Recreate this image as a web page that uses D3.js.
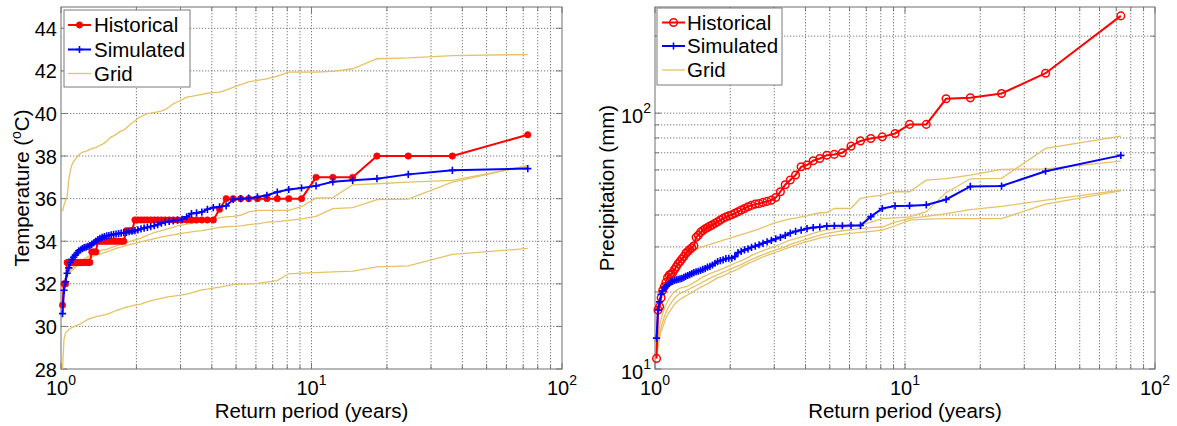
<!DOCTYPE html>
<html><head><meta charset="utf-8">
<script src="https://cdn.jsdelivr.net/npm/d3@7/dist/d3.min.js"></script>
<style>
body{margin:0;background:#fff}
text{font-family:"Liberation Sans",Arial,Helvetica,sans-serif;fill:#000}
</style>
</head><body>
<svg id="c" width="1177" height="426"></svg>
<script>
// Return periods (years) of the ranked annual maxima, rank 1..72
const returnPeriods = [73,36.5,24.333,18.25,14.6,12.167,10.429,9.125,8.111,7.3,
6.636,6.083,5.615,5.214,4.867,4.563,4.294,4.056,3.842,3.65,
3.476,3.318,3.174,3.042,2.92,2.808,2.704,2.607,2.517,2.433,
2.355,2.281,2.212,2.147,2.086,2.028,1.973,1.921,1.872,1.825,
1.780,1.738,1.698,1.659,1.622,1.587,1.553,1.521,1.490,1.46,
1.431,1.404,1.377,1.352,1.327,1.304,1.281,1.259,1.237,1.217,
1.197,1.177,1.159,1.141,1.123,1.106,1.090,1.074,1.058,1.043,
1.028,1.014];

// ---- Temperature (°C) ----
const tempHistorical = [39,38,38,38,37,37,37,36,36,36,
36,36,36,36,36,36,35.5,35,35,35,
35,35,35,35,35,35,35,35,35,35,
35,35,35,35,35,35,35,34.5,34.5,34.5,
34,34,34,34,34,34,34,34,34,34,
34,34,33.5,33.5,33.5,33,33,33,33,33,
33,33,33,33,33,33,33,33,33,32,
32,31];
const tempSimulated = [37.41,37.33,37.14,36.94,36.86,36.79,36.6,36.5,36.43,36.31,
36.16,36.08,36.02,36.0,35.96,35.66,35.62,35.58,35.5,35.37,
35.33,35.3,35.15,35.03,34.99,34.96,34.93,34.9,34.85,34.78,
34.73,34.69,34.65,34.62,34.58,34.53,34.5,34.47,34.45,34.42,
34.4,34.38,34.36,34.34,34.32,34.3,34.27,34.25,34.22,34.18,
34.13,34.08,34.0,33.93,33.85,33.8,33.76,33.72,33.7,33.65,
33.6,33.55,33.45,33.35,33.25,33.15,33.0,32.75,32.5,32.1,
31.7,30.6];
const tempGrid1 = [42.77,42.72,42.61,42.57,42.1,41.98,41.94,41.94,41.94,41.75,
41.62,41.55,41.48,41.35,41.23,41.1,41.0,40.98,40.95,40.9,
40.85,40.8,40.77,40.65,40.55,40.45,40.3,40.18,40.12,40.08,
40.05,40.02,40.0,39.93,39.85,39.78,39.65,39.55,39.45,39.33,
39.22,39.18,39.1,39.02,38.95,38.9,38.8,38.7,38.62,38.55,
38.5,38.45,38.4,38.38,38.35,38.3,38.27,38.22,38.2,38.18,
38.12,38.05,37.95,37.85,37.75,37.6,37.3,36.9,36.1,35.9,
35.7,35.4];
const tempGrid2 = [37.53,36.86,36.78,36.7,36.65,36.05,36.03,35.62,35.45,35.45,
35.45,35.45,35.38,35.22,35.17,35.14,35.1,35.05,35.0,34.93,
34.88,34.84,34.8,34.76,34.72,34.66,34.6,34.55,34.5,34.45,
34.4,34.34,34.28,34.22,34.15,34.1,34.06,34.02,33.98,33.94,
33.9,33.86,33.82,33.78,33.74,33.7,33.66,33.62,33.6,33.58,
33.55,33.5,33.46,33.42,33.38,33.33,33.28,33.22,33.17,33.12,
33.06,33.0,32.95,32.88,32.8,32.72,32.65,32.55,32.45,32.3,
32.1,31.8];
const tempGrid3 = [37.56,36.78,35.98,35.95,35.58,35.53,35.17,35.05,34.98,34.92,
34.9,34.82,34.78,34.72,34.7,34.68,34.65,34.6,34.55,34.5,
34.47,34.44,34.4,34.37,34.34,34.3,34.27,34.23,34.2,34.16,
34.12,34.08,34.05,34.0,33.97,33.94,33.9,33.87,33.84,33.8,
33.76,33.72,33.7,33.66,33.62,33.58,33.53,33.5,33.46,33.43,
33.4,33.37,33.33,33.3,33.25,33.22,33.18,33.13,33.08,33.02,
32.97,32.9,32.85,32.78,32.7,32.62,32.55,32.45,32.35,32.2,
31.9,31.5];
const tempGrid4 = [33.66,33.38,32.84,32.8,32.6,32.56,32.53,32.5,32.47,32.15,
32.08,32.02,32.0,31.99,31.96,31.9,31.85,31.8,31.75,31.72,
31.65,31.58,31.52,31.48,31.45,31.42,31.4,31.36,31.32,31.28,
31.25,31.2,31.15,31.1,31.05,31.02,31.0,30.97,30.93,30.9,
30.87,30.82,30.78,30.74,30.7,30.65,30.6,30.57,30.54,30.52,
30.5,30.48,30.45,30.43,30.4,30.37,30.33,30.28,30.22,30.18,
30.12,30.08,30.05,30.02,29.98,29.95,29.9,29.85,29.78,29.7,
29.4,28.0];

// ---- Precipitation (mm) ----
const precipHistorical = [240,143.3,119.4,114.8,113.8,90.4,90.4,83.3,80.8,79.6,
77.9,74.3,70.0,69.0,68.5,66.5,65.2,62.7,61.7,57.3,
54.8,52.5,49.3,46.8,45.7,45.2,44.8,44.3,44.1,43.6,
43.1,42.4,41.8,41.2,40.6,40.1,39.7,39.3,38.8,38.2,
37.6,37.1,36.6,36.2,35.7,35.3,34.8,34.2,33.3,32.7,
30.3,29.8,29.3,28.8,28.3,27.5,26.9,26.3,25.8,25.1,
24.5,23.8,23.5,23.3,22.8,21.8,21.0,20.3,19.0,17.5,
17.0,11.0];
const precipSimulated = [68.4,59.3,51.9,51.7,46.0,43.8,43.5,43.4,42.4,39.4,
36.4,36.4,36.3,36.3,36.2,35.9,35.7,35.4,34.9,34.5,
34.0,33.3,32.7,32.3,31.8,31.4,31.0,30.6,30.2,29.9,
29.5,29.2,28.8,28.5,27.5,27.1,27.1,27.0,26.7,26.5,
26.3,25.9,25.5,25.2,25.0,24.7,24.5,24.3,24.1,24.0,
23.8,23.6,23.4,23.2,23.0,22.8,22.6,22.5,22.4,22.3,
22.2,22.0,21.9,21.6,21.3,21.0,20.8,20.2,19.6,18.3,
17.0,13.2];
const precipGrid1 = [64.9,60.6,60.3,57.3,55.5,54.7,49.3,49.3,47.8,47.2,
46.5,42.5,42.4,42.4,40.9,40.8,40.3,39.7,39.3,38.9,
38.6,38.2,37.8,37.3,36.8,36.3,35.8,35.3,34.9,34.5,
34.1,33.8,33.5,33.2,32.9,32.6,32.3,32.1,31.9,31.6,
31.4,31.1,30.9,30.7,30.5,30.3,30.1,29.9,29.6,29.3,
29.0,28.6,28.2,27.8,27.4,27.0,26.6,26.2,25.7,25.2,
24.7,24.2,23.6,23.0,22.4,21.8,21.1,20.3,19.3,18.0,
16.0,12.5];
const precipGrid2 = [81.3,72.8,55.6,55.4,48.9,41.2,39.3,39.0,38.7,37.5,
36.5,36.1,35.8,35.4,35.0,34.5,33.9,33.3,32.8,32.3,
31.9,31.4,30.8,30.2,29.8,29.4,29.0,28.6,28.2,27.8,
27.3,26.9,26.5,26.2,25.9,25.6,25.3,25.0,24.7,24.5,
24.2,24.0,23.8,23.6,23.3,23.1,22.9,22.6,22.3,22.0,
21.8,21.5,21.3,21.1,21.0,20.9,20.8,20.7,20.5,20.3,
20.0,19.7,19.3,18.9,18.4,17.9,17.2,16.5,15.7,14.8,
13.5,12.0];
const precipGrid3 = [50.0,45.7,43.2,42.0,40.5,39.5,38.8,37.5,35.9,35.7,
35.4,35.0,34.7,34.3,33.9,33.4,32.8,32.2,31.7,31.2,
30.7,30.1,29.6,29.2,28.8,28.4,28.0,27.6,27.2,26.8,
26.4,26.0,25.6,25.3,25.0,24.7,24.4,24.1,23.9,23.6,
23.4,23.1,22.9,22.6,22.4,22.1,21.9,21.6,21.4,21.2,
21.0,20.8,20.6,20.4,20.2,20.0,19.9,19.7,19.5,19.2,
18.9,18.5,18.1,17.7,17.2,16.6,16.0,15.3,14.6,13.8,
12.8,11.5];
const precipGrid4 = [49.7,44.1,38.7,38.7,38.7,38.5,38.2,36.3,34.9,34.5,
34.2,33.9,33.6,33.3,32.9,32.5,32.0,31.5,31.0,30.5,
30.0,29.5,29.0,28.6,28.2,27.8,27.4,27.0,26.6,26.2,
25.8,25.4,25.0,24.6,24.3,24.0,23.7,23.4,23.1,22.9,
22.7,22.4,22.1,21.8,21.5,21.3,21.1,20.9,20.6,20.4,
20.1,19.9,19.7,19.5,19.3,19.1,18.9,18.7,18.5,18.2,
17.9,17.5,17.1,16.7,16.3,15.8,15.2,14.6,14.0,13.2,
12.2,11.0];

const legendLabels = ["Historical","Simulated","Grid"];
const xTickExps = [0,1,2];
const tempTicks = [28,30,32,34,36,38,40,42,44];
const precipTickExps = [1,2];

const RED = "#ff0000", BLUE = "#0000ff", GOLD = "#e6c266";
const svg = d3.select("#c");

function drawPanel(p) {
  const g = svg.append("g");
  const x = d3.scaleLog().domain([1,100]).range([p.x0,p.x1]);
  const y = p.y;
  const xGrid = [];
  [1,10].forEach(d => { for (let k=1;k<=9;k++) xGrid.push(d*k); });
  xGrid.push(100);
  // dotted grid lines
  const gg = g.append("g").attr("stroke","#7c7c7c").attr("stroke-width",1).attr("stroke-dasharray","1.3,1.7");
  xGrid.filter(v => v>1 && v<100).forEach(v => {
    gg.append("line").attr("x1",x(v)).attr("x2",x(v)).attr("y1",p.y0).attr("y2",p.y1);
  });
  p.yGrid.forEach(v => {
    gg.append("line").attr("x1",p.x0).attr("x2",p.x1).attr("y1",y(v)).attr("y2",y(v));
  });
  // inward ticks on all four sides
  const tk = g.append("g").attr("stroke","#6e6e6e").attr("stroke-width",0.9);
  xGrid.forEach(v => {
    const L = ([1,10,100].includes(v)) ? 6 : 4;
    tk.append("line").attr("x1",x(v)).attr("x2",x(v)).attr("y1",p.y1).attr("y2",p.y1-L);
    tk.append("line").attr("x1",x(v)).attr("x2",x(v)).attr("y1",p.y0).attr("y2",p.y0+L);
  });
  p.yTickAll.forEach(([v,major]) => {
    const L = major ? 6 : 4;
    tk.append("line").attr("x1",p.x0).attr("x2",p.x0+L).attr("y1",y(v)).attr("y2",y(v));
    tk.append("line").attr("x1",p.x1).attr("x2",p.x1-L).attr("y1",y(v)).attr("y2",y(v));
  });
  g.append("rect").attr("x",p.x0).attr("y",p.y0).attr("width",p.x1-p.x0).attr("height",p.y1-p.y0)
    .attr("fill","none").attr("stroke","#6e6e6e").attr("stroke-width",1);

  const line = d3.line().x((d,i)=>x(returnPeriods[i])).y(d=>y(d));
  p.grids.forEach(arr => {
    g.append("path").datum(arr).attr("d",line).attr("fill","none")
      .attr("stroke",GOLD).attr("stroke-width",1.3);
  });
  g.append("path").datum(p.hist).attr("d",line).attr("fill","none").attr("stroke",RED).attr("stroke-width",2);
  g.append("g").selectAll("circle").data(p.hist).join("circle")
    .attr("cx",(d,i)=>x(returnPeriods[i])).attr("cy",d=>y(d))
    .attr("r",p.openCircle?3.8:3.2)
    .attr("fill",p.openCircle?"none":RED).attr("stroke",RED).attr("stroke-width",p.openCircle?1.5:0.6);
  g.append("path").datum(p.sim).attr("d",line).attr("fill","none").attr("stroke",BLUE).attr("stroke-width",2);
  g.append("g").selectAll("path").data(p.sim).join("path")
    .attr("transform",(d,i)=>`translate(${x(returnPeriods[i])},${y(d)})`)
    .attr("d","M-3.6,0H3.6M0,-3.6V3.6").attr("stroke",BLUE).attr("stroke-width",1.6);

  xTickExps.forEach(e => {
    const t = g.append("text").attr("x",x(Math.pow(10,e))).attr("y",395)
      .attr("text-anchor","middle").style("font-size","20px");
    t.append("tspan").text("10");
    t.append("tspan").attr("dy",-10).style("font-size","14px").text(String(e));
  });
  p.yLabels(g, y);
  g.append("text").attr("x",(p.x0+p.x1)/2).attr("y",418).attr("text-anchor","middle")
    .style("font-size","20.5px").text("Return period (years)");
  p.yTitle(g);

  const lg = g.append("g");
  lg.append("rect").attr("x",p.leg.x).attr("y",p.leg.y).attr("width",p.leg.w).attr("height",p.leg.h)
    .attr("fill","#fff").attr("stroke","#7a7a7a").attr("stroke-width",1);
  legendLabels.forEach((lab,i) => {
    const yy = p.leg.rows[i];
    const lx0 = p.leg.lx0, lx1 = p.leg.lx1, cx = (lx0+lx1)/2;
    const col = [RED,BLUE,GOLD][i];
    lg.append("line").attr("x1",lx0).attr("x2",lx1).attr("y1",yy).attr("y2",yy)
      .attr("stroke",col).attr("stroke-width",i<2?2:1.3);
    if (i===0) lg.append("circle").attr("cx",cx).attr("cy",yy).attr("r",p.openCircle?3.8:3.2)
      .attr("fill",p.openCircle?"none":RED).attr("stroke",RED).attr("stroke-width",p.openCircle?1.5:0.6);
    if (i===1) lg.append("path").attr("transform",`translate(${cx},${yy})`)
      .attr("d","M-3.6,0H3.6M0,-3.6V3.6").attr("stroke",BLUE).attr("stroke-width",1.6);
    lg.append("text").attr("x",p.leg.tx).attr("y",yy+7).style("font-size","20.5px").text(lab);
  });
}

// Left panel: temperature
const yT = d3.scaleLinear().domain([28,45]).range([369,7]);
drawPanel({
  x0:61, x1:562, y0:7, y1:369, y:yT,
  yGrid: tempTicks.filter(v=>v>28),
  yTickAll: tempTicks.map(v=>[v,true]),
  hist: tempHistorical, sim: tempSimulated,
  grids: [tempGrid1,tempGrid2,tempGrid3,tempGrid4],
  openCircle:false,
  yLabels:(g,y)=>{
    tempTicks.forEach(v=>{
      g.append("text").attr("x",57).attr("y",y(v)+7.5).attr("text-anchor","end")
        .style("font-size","20px").text(v);
    });
  },
  yTitle:(g)=>{
    const t = g.append("text").attr("transform","translate(28.5,188) rotate(-90)")
      .attr("text-anchor","middle").style("font-size","20.5px");
    t.append("tspan").text("Temperature (");
    t.append("tspan").attr("dy",-8).style("font-size","14px").text("o");
    t.append("tspan").attr("dy",8).text("C)");
  },
  leg:{x:64,y:10,w:126,h:77,rows:[25,49.5,73.5],lx0:68,lx1:91,tx:94}
});

// Right panel: precipitation
const yP = d3.scaleLog().domain([10,260]).range([369,7]);
const pGrid = [];
for (let k=2;k<=9;k++) pGrid.push(10*k);
pGrid.push(100,200);
drawPanel({
  x0:655, x1:1155, y0:7, y1:369, y:yP,
  yGrid: pGrid,
  yTickAll: [[10,true]].concat(pGrid.map(v=>[v,v===100])),
  hist: precipHistorical, sim: precipSimulated,
  grids: [precipGrid1,precipGrid2,precipGrid3,precipGrid4],
  openCircle:true,
  yLabels:(g,y)=>{
    precipTickExps.forEach(e=>{
      const t = g.append("text").attr("x",651).attr("y",y(Math.pow(10,e))+9.5).attr("text-anchor","end")
        .style("font-size","20px");
      t.append("tspan").text("10");
      t.append("tspan").attr("dy",-10).style("font-size","14px").text(String(e));
    });
  },
  yTitle:(g)=>{
    g.append("text").attr("transform","translate(614,188) rotate(-90)")
      .attr("text-anchor","middle").style("font-size","20.5px").text("Precipitation (mm)");
  },
  leg:{x:657,y:8,w:125,h:77,rows:[22.5,46,70],lx0:662,lx1:685,tx:687}
});
</script>
</body></html>
